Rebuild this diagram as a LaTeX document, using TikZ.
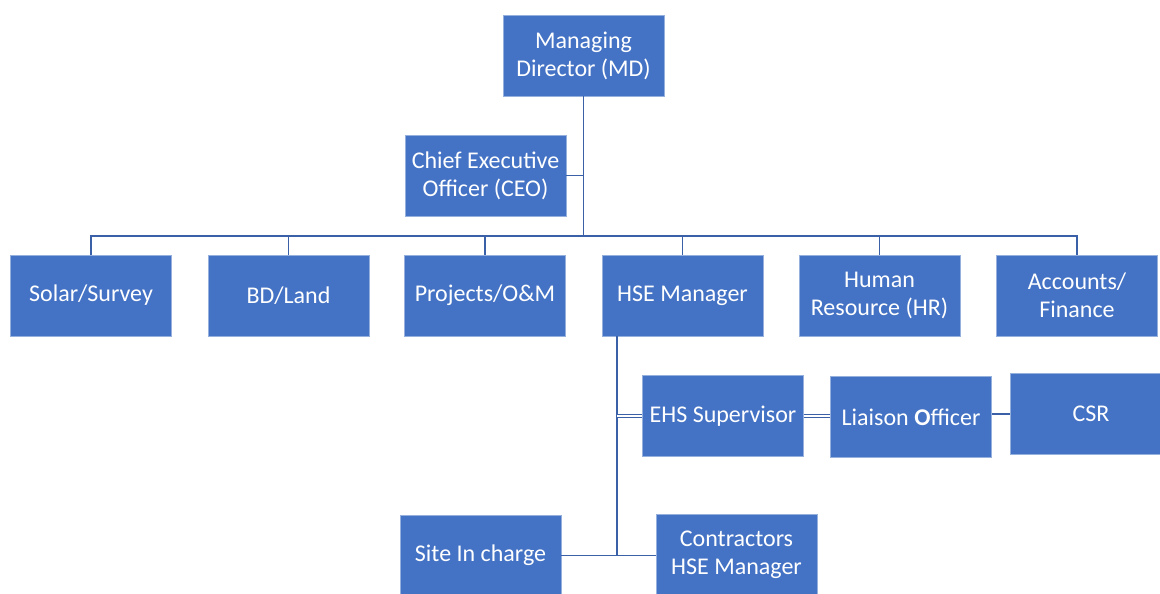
\documentclass[tikz,border=0pt]{standalone}
\usepackage{fontspec}
\setmainfont{Carlito}
\definecolor{boxblue}{RGB}{68,114,196}
\definecolor{boxedge}{RGB}{150,176,222}
\definecolor{linkblue}{RGB}{58,96,168}
\tikzset{
  orgbox/.style={draw=boxedge, line width=0.6pt, fill=boxblue, text=white,
    minimum width=120.75pt, minimum height=60.75pt, inner sep=2pt,
    align=center, font=\fontsize{18}{21}\selectfont},
  link/.style={draw=linkblue, line width=1.3pt},
  dlink/.style={draw=linkblue, double=white, double distance=0.9pt, line width=0.8pt}
}

\begin{document}
\begin{tikzpicture}[x=0.75pt,y=0.75pt,yscale=-1,xscale=1]
\useasboundingbox (0,0) rectangle (1160,593);
\clip (0,0) rectangle (1160,593);

% top of the chart
\node[orgbox] (md) at (583.5,55.5) {Managing\\Director (MD)};
\node[orgbox] (ceo) at (485.5,175.5) {Chief Executive\\Officer (CEO)};

% departments
\node[orgbox] (sol) at (91,295.5) {Solar/Survey};
\node[orgbox] (bd) at (288.5,295.5) {BD/Land};
\node[orgbox] (prj) at (485,295.5) {Projects/O\&M};
\node[orgbox] (hse) at (682.5,295.5) {HSE Manager};
\node[orgbox] (hr) at (879.5,295.5) {Human\\Resource (HR)};
\node[orgbox] (acc) at (1077,295.5) {Accounts/\\Finance};

% under the HSE manager
\node[orgbox] (ehs) at (723,416) {EHS Supervisor};
\node[orgbox] (liaison) at (911,417) {Liaison \textbf{O}fficer};
\node[orgbox] (csr) at (1091,414) {CSR};
\node[orgbox] (site) at (480.5,555.5) {Site In charge};
\node[orgbox] (contr) at (736.5,554.5) {Contractors\\HSE Manager};

% connectors
\coordinate (hub) at (583.5,236);
\draw[link] (md.south) -- (hub);
\draw[link] (ceo.east) -- (ceo.east -| hub);
\foreach \n in {sol,bd,prj,hse,hr,acc}
  \draw[link] (\n.north) |- (hub);

\coordinate (spine) at (617,555);
\draw[link] (hse.south -| spine) -- (spine);
\draw[dlink] (ehs.west) -- (ehs.west -| spine);
\draw[dlink] (ehs.east) -- (ehs.east -| liaison.west);
\draw[link] (liaison.east |- csr.west) -- (csr.west);
\draw[link] (site.east) -- (site.east -| contr.west);
\end{tikzpicture}
\end{document}
